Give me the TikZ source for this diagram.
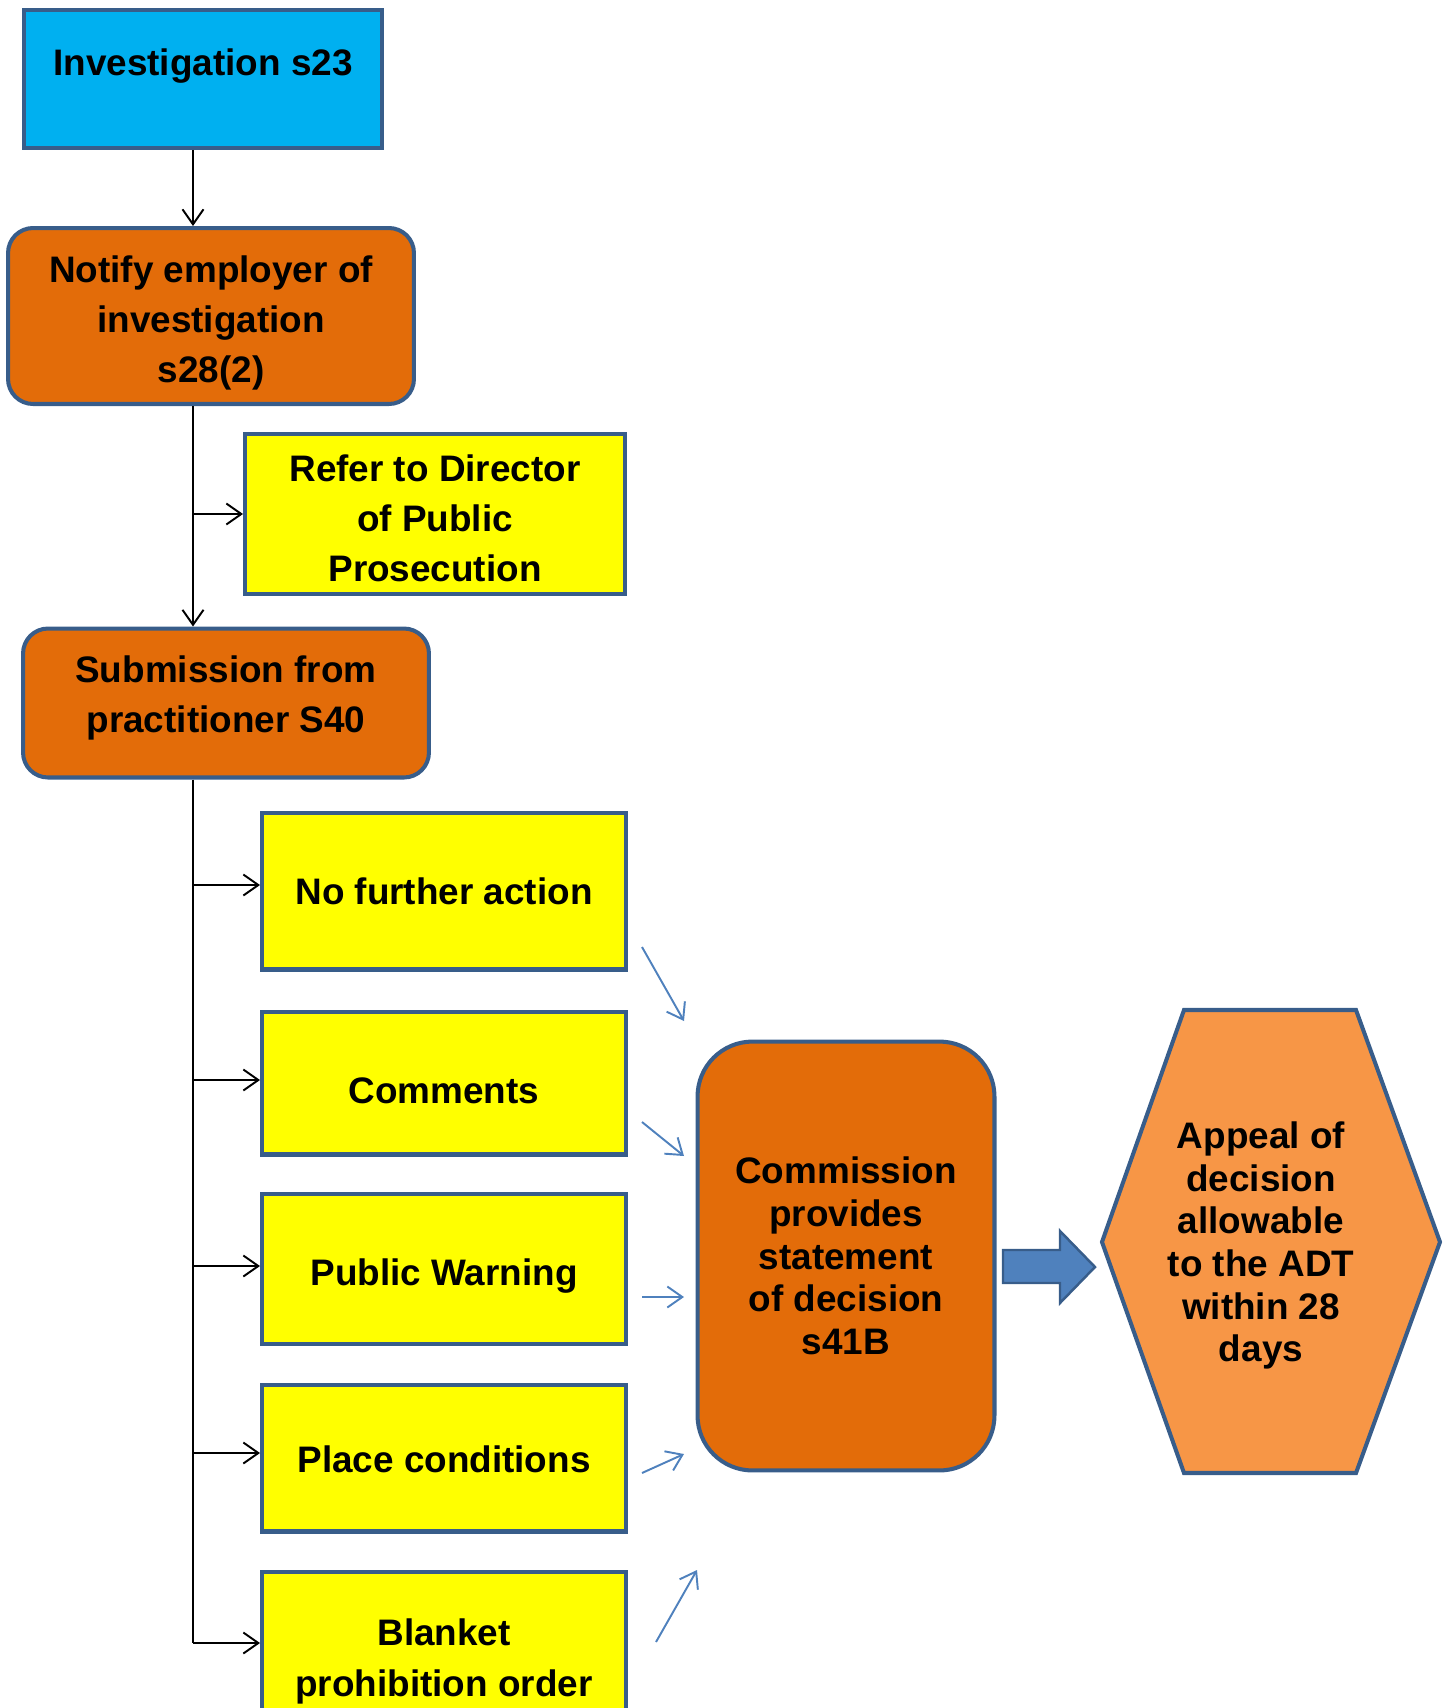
\documentclass[tikz,border=0pt]{standalone}
\usepackage{fontspec}
\setmainfont{Liberation Sans}
\usetikzlibrary{arrows.meta,positioning,calc}

\definecolor{boxline}{HTML}{385D8A}
\definecolor{skyfill}{HTML}{00B0F0}
\definecolor{darkorange}{HTML}{E36C09}
\definecolor{lightorange}{HTML}{F79646}
\definecolor{pureyellow}{HTML}{FFFF00}
\definecolor{arrowblue}{HTML}{4F81BD}

% strut to push the first line of a box down
\newcommand{\padtop}[1]{\rule{0pt}{#1}}
\newcommand{\padbot}[1]{\rule[-#1]{0pt}{#1}}

\begin{document}
\begin{tikzpicture}[x=0.02cm, y=-0.02cm,
    boldtext/.style={align=center, font=\fontsize{21}{28.5}\selectfont\bfseries},
    righttext/.style={align=center, font=\fontsize{21}{24.3}\selectfont\bfseries},
    box/.style={draw=boxline, line width=2.3pt, inner sep=0pt, boldtext},
    stepbox/.style={box, fill=darkorange, rounded corners=0.5cm, minimum width=8.12cm},
    choice/.style={box, fill=pureyellow, minimum width=7.28cm},
    link/.style={line width=1.1pt, -{Straight Barb[length=0.3cm,width=0.42cm]}},
    bluelink/.style={draw=arrowblue, line width=1.1pt, -{Straight Barb[length=0.3cm,width=0.42cm]}}
]

    %\draw[step=50,help lines] (0,0) grid (1452,1708);
    \useasboundingbox (0,0) rectangle (1452,1708);

    % left column
    \node[box, fill=skyfill, minimum width=7.16cm, minimum height=2.76cm,
          label={[boldtext, yshift=0.25cm]center:Investigation s23}] (inv) at (203,79) {};
    \node[stepbox, minimum height=3.52cm] (notify) at (211,316) {\padtop{22.7pt}Notify employer of\\investigation\\s28(2)};
    \node[box, fill=pureyellow, minimum width=7.6cm, minimum height=3.2cm] (refer) at (435,514) {\padtop{20.3pt}Refer to Director\\of Public\\Prosecution};
    \node[stepbox, minimum height=2.98cm] (sub) at (226,703) {Submission from\\practitioner S40\padbot{10.6pt}};

    \node[choice, minimum height=3.14cm] (nfa) at (444,891) {No further action};
    \node[choice, minimum height=2.86cm] (com) at (444,1083) {\padtop{23.6pt}Comments};
    \node[choice, minimum height=3.0cm] (pw) at (444,1269) {\padtop{22.7pt}Public Warning};
    \node[choice, minimum height=2.94cm] (pc) at (444,1458) {\padtop{17pt}Place conditions};
    \node[choice, minimum height=3.2cm] (bpo) at (444,1652) {\padtop{26pt}Blanket\\prohibition order};

    % right part
    \node[box, fill=darkorange, rounded corners=1.1cm, minimum width=5.94cm, minimum height=8.58cm,
          righttext] (comm) at (846,1256) {Commission\\provides\\statement\\of decision\\s41B};

    \draw[draw=boxline, line width=2.3pt, fill=lightorange]
        (1184,1010) -- (1356,1010) -- (1440,1242) -- (1356,1473) -- (1184,1473) -- (1102,1242) -- cycle;
    \node[righttext] (appeal) at (1261,1244) {\padtop{17pt}Appeal of\\decision\\allowable\\to the ADT\\within 28\\days};

    \draw[draw=boxline, line width=1.4pt, fill=arrowblue]
        (1003,1250) -- (1060,1250) -- (1060,1231) -- (1095,1267) -- (1060,1303) -- (1060,1283) -- (1003,1283) -- cycle;

    % spine
    \coordinate (spine) at (193,0);
    \draw[link] (inv.south -| spine) -- (notify.north -| spine);
    \draw[link] (notify.south -| spine) -- (sub.north -| spine);
    \draw[link] (spine |- refer.west) -- (refer.west);
    \draw[line width=1.1pt] (sub.south -| spine) -- ($(spine |- bpo.west)+(0,-9)$);
    \draw[link] ($(spine |- nfa.west)+(0,-6)$) -- ($(nfa.west)+(0,-6)$);
    \draw[link] ($(spine |- com.west)+(0,-3)$) -- ($(com.west)+(0,-3)$);
    \draw[link] ($(spine |- pw.west)+(0,-3)$) -- ($(pw.west)+(0,-3)$);
    \draw[link] ($(spine |- pc.west)+(0,-5)$) -- ($(pc.west)+(0,-5)$);
    \draw[link] ($(spine |- bpo.west)+(0,-9)$) -- ($(bpo.west)+(0,-9)$);

    % loose blue arrows
    \coordinate (a1) at (642,947);  \coordinate (b1) at (684,1021);
    \coordinate (a2) at (642,1122); \coordinate (b2) at (684,1156);
    \coordinate (a3) at (642,1297); \coordinate (b3) at (684,1297);
    \coordinate (a4) at (642,1473); \coordinate (b4) at (684,1454);
    \coordinate (a5) at (656,1642); \coordinate (b5) at (697,1570);
    \foreach \i in {1,...,5}
        \draw[bluelink] (a\i) -- (b\i);
\end{tikzpicture}
\end{document}
